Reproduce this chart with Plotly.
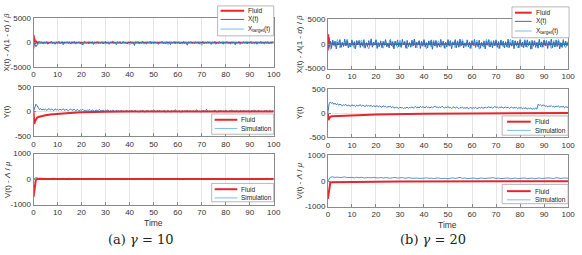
import numpy as np
import plotly.graph_objects as go

W, H = 582, 255

# ---------------- data ----------------
# Fluid (deterministic) curves
t_fluid_X = [0, 0.15, 0.3, 0.45, 0.6, 0.8, 1.0, 1.3, 1.6, 2, 3, 100]
fluid_X_a = [-1200, 1500, -600, 900, -300, 400, -100, 150, -50, 20, 0, 0]
fluid_X_b = [-1300, 2000, -800, 1300, -400, 600, -200, 250, -80, 30, 0, 0]

t_fluid_Y = [0, 0.3, 0.6, 1, 1.5, 2, 3, 5, 7, 10, 15, 20, 25, 30, 40, 60, 80, 100]
fluid_Y_a = [0, -250, -200, -150, -125, -110, -95, -75, -60, -45, -28, -15, -7, -3, 0, 0, 0, 0]
fluid_Y_b = [0, -150, -100, -75, -68, -65, -62, -58, -54, -48, -40, -33, -27, -22, -15, -8, -4, -2]

t_fluid_V = [0, 0.5, 1, 2, 5, 10, 20, 30, 50, 70, 100]
fluid_V_a = [-700, -350, -10, 0, 0, 0, 0, 0, 0, 0, 0]
fluid_V_b = [-700, -380, -60, -45, -38, -32, -25, -20, -12, -8, -5]

# Simulation X(t), panel (a)
X_a = [0,-300,-800,-450,120,210,-90,150,-260,80,-120,190,-310,60,-40,230,-180,90,-350,140,
-70,260,-220,30,170,-410,110,-60,200,-150,40,-280,180,-90,250,-330,70,-20,160,-240,
120,-500,90,210,-130,30,-270,150,-60,190,-380,100,-10,240,-200,60,-140,170,-290,80,
220,-100,40,-350,130,-30,260,-170,90,-430,150,-80,200,-250,20,180,-120,70,-310,140,
-40,230,-190,110,-600,160,-70,210,-260,50,-120,280,-150,90,-330,170,-20,240,-210,60,
-160,190,-90,130,-370,80,-30,250,-180,40,-280,200,-110,160,-420,70,-50,230,-240,120,
-80,190,-300,60,-140,260,-200,100,-550,150,-40,220,-170,30,-250,180,-90,140,-320,80,
-20,270,-230,110,-130,200,-60,90,-390,160,-100,240,-280,50,-170,210,-70,120,-340,60,
-10,250,-190,130,-260,170,-50,100,-460,140,-110,230,-220,40,-150,190,-80,150,-300,90,
-30,260,-210,70,-120,180,-350,110,-60,240,-160,90,-200,150,-80,210,-260,60,-130,180,40]
# X_target(t), panel (a)
Xt_a = [0,-900,-300,150,-200,100,-350,200,-100,50,-250,180,-400,90,-50,220,-300,120,-150,60,
-450,170,-80,240,-200,30,-320,150,-60,200,-380,100,-20,260,-150,70,-280,190,-110,40,
-500,160,-90,210,-240,80,-350,130,-40,230,-180,60,-300,200,-120,90,-420,150,-70,250,
-210,40,-330,180,-100,70,-260,140,-30,220,-600,110,-160,190,-80,50,-380,160,-50,240,
-230,90,-310,170,-130,60,-450,140,-20,210,-190,100,-290,150,-70,230,-350,80,-140,200,-100]

# Simulation X(t), panel (b)
X_b = [0,-600,500,-900,800,-300,600,-1000,400,-200,900,-700,300,-500,1000,-400,700,-800,200,-600,
850,-300,500,-950,650,-150,750,-700,350,-450,900,-850,250,-550,700,-300,1050,-650,400,-200,
800,-900,300,-500,650,-750,550,-250,900,-600,150,-800,700,-400,500,-1000,600,-300,850,-550,
350,-700,950,-200,450,-850,750,-500,250,-650,800,-350,1000,-750,400,-150,700,-900,550,-450,
900,-600,300,-800,650,-250,850,-1050,500,-400,750,-700,200,-550,950,-300,600,-850,400,-600,
800,-450,700,-950,350,-200,900,-750,500,-650,1000,-350,600,-800,250,-500,850,-600,450,-900,
700,-300,950,-700,400,-550,800,-850,300,-450,650,-1000,550,-250,900,-600,350,-750,700,-400,
850,-650,500,-900,750,-300,600,-800,450,-550,1000,-700,300,-450,800,-950,650,-350,550,-800,
900,-500,400,-750,700,-600,850,-300,500,-1050,750,-450,600,-700,350,-850,950,-550,450,-650,
800,-400,700,-900,550,-300,1000,-750,400,-600,850,-500,650,-1000,300,-700,900,-450,600,-350,500]
Xt_b = [0,-1100,700,-500,900,-800,400,-300,1000,-600,500,-900,750,-200,850,-700,300,-1000,600,-400,
950,-550,200,-850,700,-350,1050,-650,450,-750,800,-250,600,-950,350,-500,900,-800,550,-300,
750,-1000,400,-600,850,-450,650,-700,300,-900,1000,-350,500,-750,700,-550,900,-250,450,-850,
600,-400,800,-1050,350,-650,950,-500,700,-300,550,-900,850,-600,400,-750,1000,-350,650,-800,
300,-550,900,-700,500,-1000,750,-400,600,-650,850,-300,450,-900,700,-500,950,-600,400,-750,300]

# Simulation Y(t)
Y_a = [0,80,150,120,70,40,60,30,50,35,55,25,45,60,30,50,40,20,55,35,
45,25,50,30,40,55,20,45,35,15,40,50,25,35,45,20,30,40,15,35,
25,45,20,30,10,35,25,40,15,30,20,5,35,15,25,40,10,20,30,5,
25,15,35,0,20,10,30,15,-5,25,10,20,0,30,5,15,-10,25,10,0,
20,5,30,-5,15,25,0,10,-15,20,5,30,0,-10,25,10,15,-5,20,0,
35,10,-10,20,5,25,-5,15,0,30,-15,10,20,5,-10,25,0,15,40,5,
-5,20,10,-15,25,0,15,5,30,-10,20,10,0,25,-5,15,35,0,10,-10,
20,5,25,-5,45,10,0,20,-10,15,5,30,0,-15,20,10,25,-5,15,0,
30,5,-10,20,10,35,0,15,-5,25,5,-10,20,10,0,30,-5,15,5,25,
-10,10,20,0,35,5,-5,25,10,0,15,-10,20,5,30,-5,10,25,0,15,5]
Y_b = [0,190,230,200,215,180,205,170,195,160,185,175,150,170,160,180,145,165,155,140,
170,150,160,135,165,145,155,175,140,160,150,130,165,145,155,140,160,130,150,145,
135,155,125,145,140,120,150,130,140,115,135,125,145,110,130,120,100,125,110,95,
120,105,115,90,110,100,125,95,115,105,130,100,120,135,110,125,105,140,115,130,
120,105,135,115,125,100,130,110,120,145,115,125,105,130,110,140,120,100,125,110,
135,105,120,95,115,130,100,120,110,90,115,105,125,95,110,100,120,85,105,115,
95,110,100,120,90,105,115,100,125,95,110,120,105,115,130,110,125,100,120,135,
115,125,105,120,110,130,100,115,125,105,120,95,110,125,100,115,105,120,90,110,
100,115,85,105,95,110,80,100,90,105,75,95,85,100,80,180,160,170,145,165,
160,140,150,125,145,135,155,130,140,120,145,130,150,115,135,125,140,110,130,120,115]

# Simulation V(t)
V_a = [0,60,40,35,20,30,25,15,35,20,25,10,30,15,20,35,10,25,15,5,
20,10,15,25,0,15,5,20,10,0,15,25,5,10,-5,20,0,15,30,5,
10,-5,15,5,20,0,10,25,-5,15,5,10,0,20,-5,10,15,0,25,5,
35,0,10,-5,15,5,20,0,10,-10,15,5,25,0,10,5,-5,15,0,20,
5,-5,10,15,0,20,-5,10,5,15,0,10,-5,20,5,10,0,30,25,10,15]
V_b = [0,150,165,140,155,130,145,160,135,150,140,125,145,130,150,120,140,135,125,145,
130,120,140,115,135,125,110,130,140,115,125,135,110,120,130,105,125,115,100,120,
110,125,105,115,95,110,120,100,115,105,90,110,125,100,115,140,105,120,95,110,
100,115,90,105,120,100,110,95,105,130,100,115,95,110,100,120,90,105,115,95,
110,100,120,95,105,115,90,110,120,100,115,105,125,110,95,130,115,100,120,105,110]

x_ticks = [0, 10, 20, 30, 40, 50, 60, 70, 80, 90, 100]
y_ranges = {"X": [-5000, 5000], "Y": [-500, 500], "V": [-1000, 1000]}
y_ticks = {"X": [-5000, 0, 5000], "Y": [-500, 0, 500], "V": [-1000, 0, 1000]}
y_ticklabels = {"X": ["-5000", "0", "5000"], "Y": ["-500", "0", "500"], "V": ["-1000", "0", "1000"]}
y_titles = {"X": "X(t) - <i>Λ</i>(1 - <i>α</i>) / <i>β</i>", "Y": "Y(t)", "V": "V(t) - <i>Λ</i> / <i>μ</i>"}

RED = "#e5262b"
BLUE = "#2a6fb8"
LBLUE = "#6db5e6"
GRAY = "#555555"


def tt(v):
    return np.linspace(0, 100, len(v))


def px(x, y):
    return x / W, 1 - y / H


fig = go.Figure()

# pixel layout of the axes boxes: (x0, x1, y_top, y_bottom)
boxes = {
    1: (32, 276, 15, 65), 2: (32, 276, 86, 137), 3: (32, 276, 155, 208),
    4: (331, 575, 16, 67), 5: (331, 575, 88, 138), 6: (331, 575, 157, 210),
}
kinds = {1: "X", 2: "Y", 3: "V", 4: "X", 5: "Y", 6: "V"}


def add(i, x, y, color, width):
    sfx = "" if i == 1 else str(i)
    fig.add_trace(go.Scatter(x=x, y=y, mode="lines", line=dict(color=color, width=width),
                             xaxis="x" + sfx, yaxis="y" + sfx, showlegend=False, hoverinfo="skip"))


# panel (a)
add(1, t_fluid_X, fluid_X_a, RED, 1.8)
add(1, tt(Xt_a), Xt_a, LBLUE, 0.9)
add(1, tt(X_a), X_a, BLUE, 0.9)
add(2, tt(Y_a), Y_a, BLUE, 0.9)
add(2, t_fluid_Y, fluid_Y_a, RED, 2)
add(3, tt(V_a), V_a, "#4a95d6", 0.9)
add(3, t_fluid_V, fluid_V_a, RED, 2)
# panel (b)
add(4, t_fluid_X, fluid_X_b, RED, 1.8)
add(4, tt(Xt_b), Xt_b, LBLUE, 1.0)
add(4, tt(X_b), X_b, BLUE, 1.0)
add(5, tt(Y_b), Y_b, BLUE, 0.9)
add(5, t_fluid_Y, fluid_Y_b, RED, 2)
add(6, tt(V_b), V_b, "#3f88cc", 0.9)
add(6, t_fluid_V, fluid_V_b, RED, 2)

axis_common = dict(showline=True, mirror=True, linecolor="#8a8a8a", linewidth=0.8,
                   showgrid=True, gridcolor="#e6e6e6", gridwidth=0.8, zeroline=False,
                   ticks="inside", ticklen=3, tickcolor="#8a8a8a",
                   tickfont=dict(family="Liberation Sans", size=8, color="#333333"))

layout = dict(width=W, height=H, margin=dict(l=0, r=0, t=0, b=0),
              paper_bgcolor="white", plot_bgcolor="white", showlegend=False)
for i, (x0, x1, yt, yb) in boxes.items():
    sfx = "" if i == 1 else str(i)
    k = kinds[i]
    layout["xaxis" + sfx] = dict(axis_common, domain=[x0 / W, x1 / W], range=[0, 100],
                                 tickvals=x_ticks, anchor="y" + sfx, tickformat="d")
    layout["yaxis" + sfx] = dict(axis_common, domain=[1 - yb / H, 1 - yt / H], range=y_ranges[k],
                                 tickvals=y_ticks[k], ticktext=y_ticklabels[k], anchor="x" + sfx)
fig.update_layout(**layout)

annotations = []
shapes = []

# y-axis titles
for i, (x0, x1, yt, yb) in boxes.items():
    k = kinds[i]
    lx = 5 if i <= 3 else 302
    ax, ay = px(lx, (yt + yb) / 2)
    annotations.append(dict(x=ax, y=ay, xref="paper", yref="paper", text=y_titles[k], textangle=-90,
                            showarrow=False, xanchor="center", yanchor="middle",
                            font=dict(family="Liberation Sans", size=8, color="#333333")))

# Time labels
for cx, cy in [(154, 227), (453, 229)]:
    ax, ay = px(cx, cy)
    annotations.append(dict(x=ax, y=ay, xref="paper", yref="paper", text="Time", showarrow=False,
                            xanchor="center", yanchor="middle",
                            font=dict(family="Liberation Sans", size=8.5, color="#333333")))

# captions
for cx, txt in [(141, "(a) <i>γ</i> = 10"), (438, "(b) <i>γ</i> = 20")]:
    ax, ay = px(cx, 254)
    annotations.append(dict(x=ax, y=ay, xref="paper", yref="paper", text=txt, showarrow=False,
                            xanchor="center", yanchor="bottom",
                            font=dict(family="DejaVu Serif", size=13, color="#222222")))


# manual legends
def legend(box, items, lx0, lx1, tx):
    bx0, by0, bx1, by1 = box
    a0, b0 = px(bx0, by0)
    a1, b1 = px(bx1, by1)
    shapes.append(dict(type="rect", xref="paper", yref="paper", x0=a0, x1=a1, y0=b1, y1=b0,
                       fillcolor="white", line=dict(color="#9a9a9a", width=0.7), layer="above"))
    for (label, color, width, yy) in items:
        s0, sy = px(lx0, yy)
        s1, _ = px(lx1, yy)
        shapes.append(dict(type="line", xref="paper", yref="paper", x0=s0, x1=s1, y0=sy, y1=sy,
                           line=dict(color=color, width=width), layer="above"))
        t0, _ = px(tx, yy)
        annotations.append(dict(x=t0, y=sy, xref="paper", yref="paper", text=label, showarrow=False,
                                xanchor="left", yanchor="middle",
                                font=dict(family="Liberation Sans", size=6.5, color="#222222")))


legend((219, 2, 276, 33), [("Fluid", RED, 2, 7), ("X(t)", GRAY, 0.9, 16),
                           ("X<sub>target</sub>(t)", LBLUE, 0.9, 26)], 222, 246, 248)
legend((518, 3, 576, 35), [("Fluid", RED, 2, 9), ("X(t)", GRAY, 0.9, 18),
                           ("X<sub>target</sub>(t)", LBLUE, 0.9, 28)], 521, 538, 540)
legend((213, 114, 276, 135), [("Fluid", RED, 2, 120), ("Simulation", LBLUE, 0.9, 129)], 216, 239, 241)
legend((213, 186, 276, 205), [("Fluid", RED, 2, 192), ("Simulation", LBLUE, 0.9, 201)], 216, 239, 241)
legend((508, 116, 575, 136), [("Fluid", RED, 2, 122), ("Simulation", LBLUE, 0.9, 131)], 513, 537, 539)
legend((508, 187, 575, 207), [("Fluid", RED, 2, 194), ("Simulation", LBLUE, 0.9, 203)], 513, 537, 539)

fig.update_layout(annotations=annotations, shapes=shapes)
fig.write_html("out.html")
